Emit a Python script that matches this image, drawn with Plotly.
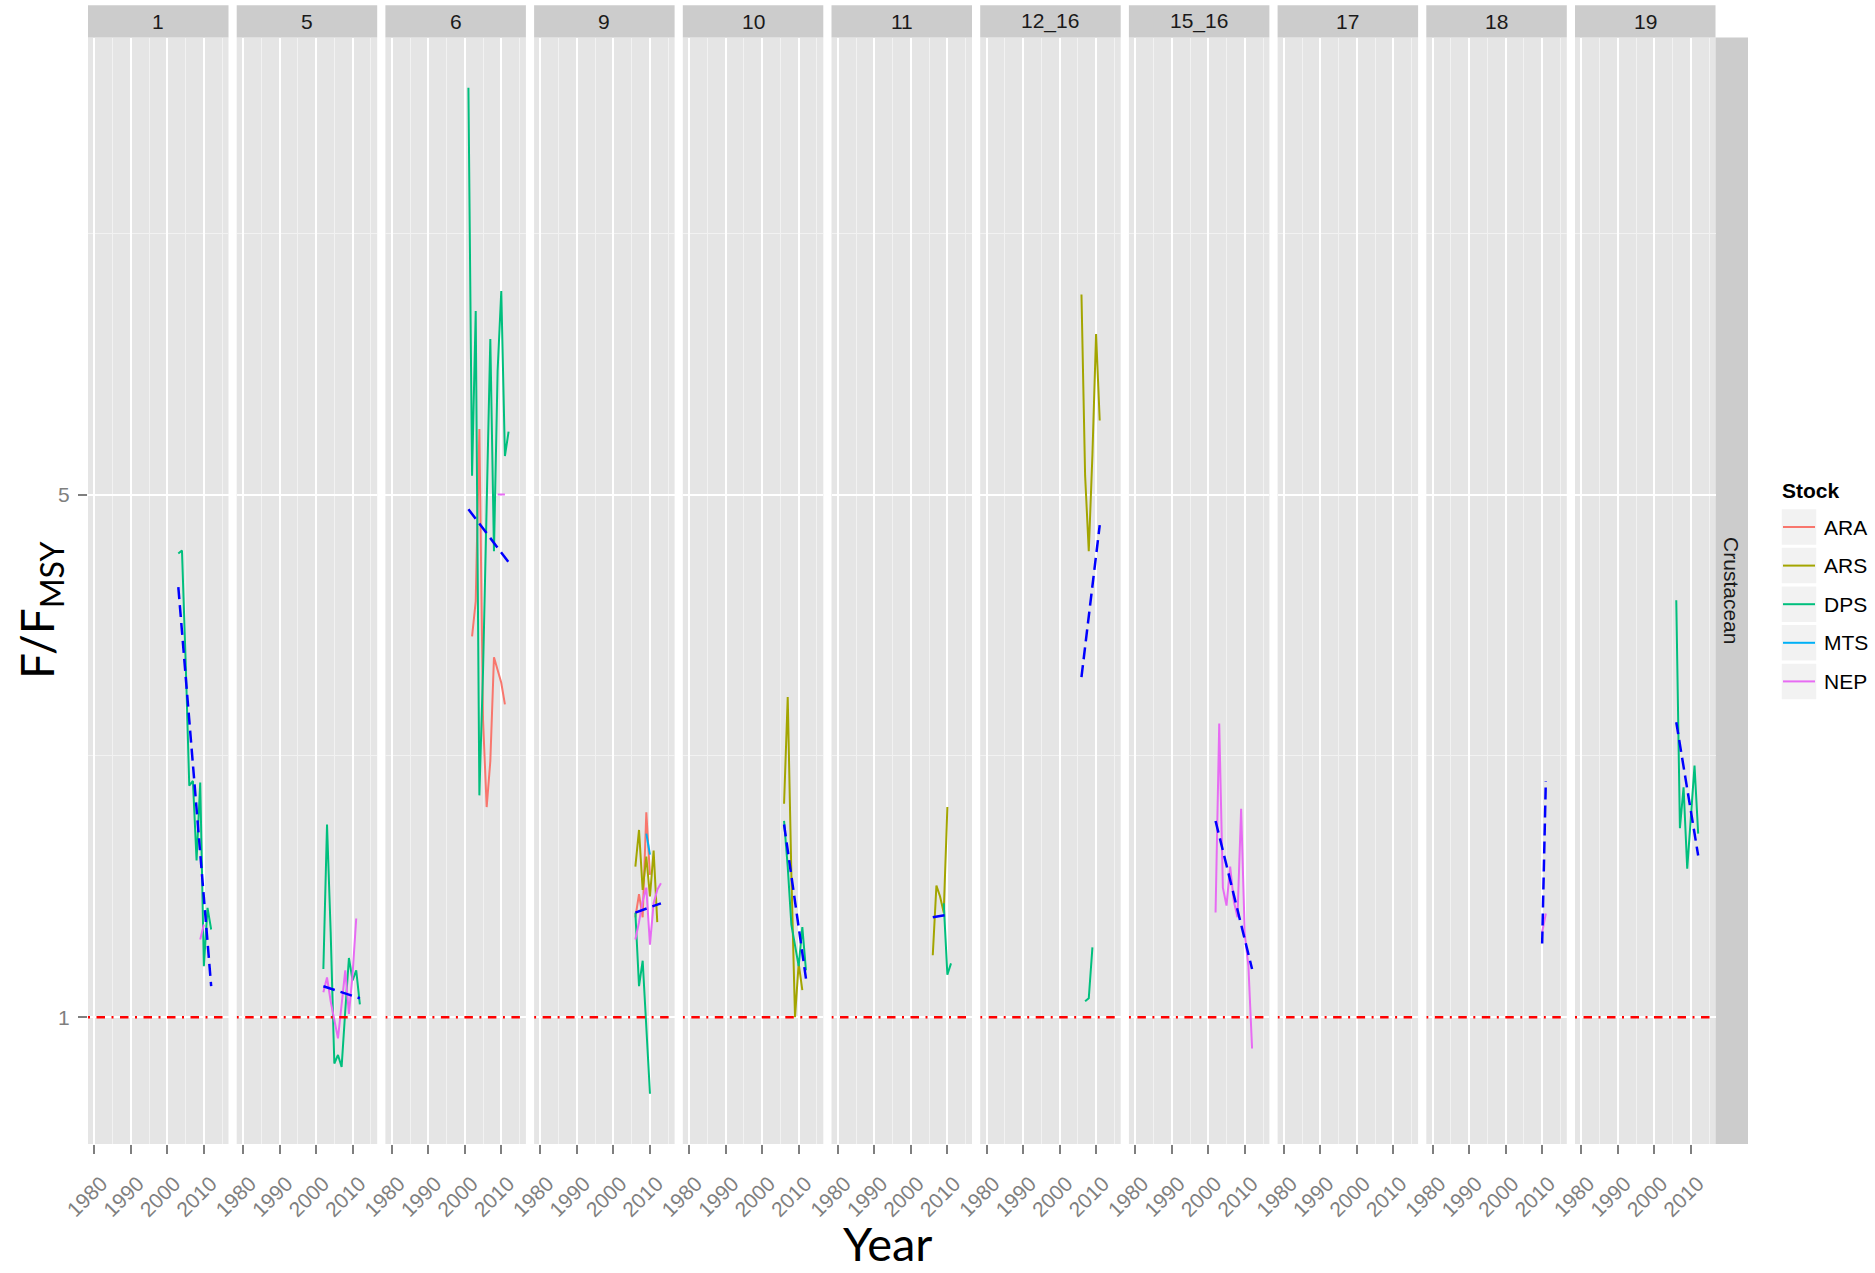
import math
import plotly.graph_objects as go

# ---------------- data ----------------
PANELS = ["1", "5", "6", "9", "10", "11", "12_16", "15_16", "17", "18", "19"]
STOCKS = ["ARA", "ARS", "DPS", "MTS", "NEP"]
STOCK_COLORS = ["#F8766D", "#A3A500", "#00BF7D", "#00B0F6", "#E76BF3"]
X_TICKS = [1980, 1990, 2000, 2010]
X_MINOR = [1985, 1995, 2005, 2015]
Y_TICKS = [1, 5]
X_LIMITS = [1980, 2015]          # year span of the full data set
REF_LEVEL = 1                     # F = FMSY
ROW_LABEL = "Crustacean"

# GSA 1
A1_DPS_YEAR = [2003, 2004, 2005, 2006, 2007, 2008, 2009, 2010, 2011, 2012]
A1_DPS_F = [4.17, 4.21, 3.0, 2.04, 2.07, 1.62, 2.06, 1.17, 1.40, 1.31]
A1_NEP_YEAR = [2009, 2010]
A1_NEP_F = [1.27, 1.33]
A1_TREND_YEAR = [2003, 2012]
A1_TREND_F = [3.76, 1.10]

# GSA 5
A5_DPS_YEAR = [2002, 2003, 2004, 2005, 2006, 2007, 2008, 2009, 2010, 2011, 2012]
A5_DPS_F = [1.16, 1.81, 1.30, 0.867, 0.89, 0.858, 1.02, 1.20, 1.12, 1.155, 1.04]
A5_NEP_YEAR = [2002, 2003, 2004, 2005, 2006, 2007, 2008, 2009, 2010, 2011]
A5_NEP_F = [1.08, 1.13, 1.05, 0.99, 0.937, 1.04, 1.155, 1.01, 1.14, 1.355]
A5_TREND_YEAR = [2002, 2012]
A5_TREND_F = [1.10, 1.06]

# GSA 6
A6_ARA_YEAR = [2002, 2003, 2004, 2005, 2006, 2007, 2008, 2009, 2010, 2011]
A6_ARA_F = [3.23, 3.6, 6.12, 2.5, 1.91, 2.2, 3.03, 2.92, 2.8, 2.62]
A6_DPS_YEAR = [2001, 2002, 2003, 2004, 2005, 2006, 2007, 2008, 2009, 2010, 2011, 2012]
A6_DPS_F = [17.5, 5.3, 8.8, 1.98, 2.9, 4.9, 8.07, 4.2, 7.32, 9.36, 5.63, 6.07]
A6_NEP_YEAR = [2009, 2010, 2011]
A6_NEP_F = [5.0, 5.0, 5.0]
A6_TREND_YEAR = [2001, 2012]
A6_TREND_F = [4.78, 4.06]

# GSA 9
A9_ARA_YEAR = [2006, 2007, 2008, 2009, 2010]
A9_ARA_F = [1.36, 1.46, 1.36, 1.88, 1.55]
A9_ARS_YEAR = [2006, 2007, 2008, 2009, 2010, 2011, 2012]
A9_ARS_F = [1.59, 1.78, 1.48, 1.64, 1.45, 1.67, 1.34]
A9_DPS_YEAR = [2006, 2007, 2008, 2009, 2010]
A9_DPS_F = [1.38, 1.10, 1.19, 0.97, 0.79]
A9_MTS_YEAR = [2009, 2010]
A9_MTS_F = [1.76, 1.65]
A9_NEP_YEAR = [2006, 2007, 2008, 2009, 2010, 2011, 2012, 2013]
A9_NEP_F = [1.27, 1.34, 1.43, 1.49, 1.25, 1.42, 1.48, 1.51]
A9_TREND_YEAR = [2006, 2013]
A9_TREND_F = [1.38, 1.42]

# GSA 10
A10_ARS_YEAR = [2006, 2007, 2008, 2009, 2010, 2011]
A10_ARS_F = [1.93, 2.68, 1.55, 1.0, 1.18, 1.087]
A10_DPS_YEAR = [2006, 2007, 2008, 2009, 2010, 2011, 2012]
A10_DPS_F = [1.83, 1.59, 1.33, 1.24, 1.17, 1.32, 1.155]
A10_TREND_YEAR = [2006, 2012]
A10_TREND_F = [1.81, 1.126]

# GSA 11
A11_ARS_YEAR = [2006, 2007, 2008, 2009, 2010]
A11_ARS_F = [1.21, 1.50, 1.45, 1.38, 1.91]
A11_DPS_YEAR = [2009, 2010, 2011]
A11_DPS_F = [1.42, 1.14, 1.18]
A11_TREND_YEAR = [2006, 2009.6]
A11_TREND_F = [1.36, 1.37]

# GSA 12_16
A12_ARS_YEAR = [2006, 2007, 2008, 2009, 2010, 2011]
A12_ARS_F = [9.26, 5.3, 4.20, 5.65, 8.2, 6.28]
A12_DPS_YEAR = [2007, 2008, 2009]
A12_DPS_F = [1.05, 1.06, 1.24]
A12_TREND_YEAR = [2006, 2011]
A12_TREND_F = [2.85, 4.55]

# GSA 15_16
A15_NEP_YEAR = [2002, 2003, 2004, 2005, 2006, 2007, 2008, 2009, 2010, 2011, 2012]
A15_NEP_F = [1.38, 2.47, 1.49, 1.41, 1.59, 1.43, 1.36, 1.90, 1.29, 1.17, 0.908]
A15_TREND_YEAR = [2002, 2012]
A15_TREND_F = [1.83, 1.16]

# GSA 18
A18_NEP_YEAR = [2010, 2011]
A18_NEP_F = [1.30, 1.376]
A18_TREND_YEAR = [2010, 2011]
A18_TREND_F = [1.255, 2.07]

# GSA 19
A19_DPS_YEAR = [2006, 2007, 2008, 2009, 2010, 2011, 2012]
A19_DPS_F = [3.61, 1.79, 2.03, 1.58, 1.85, 2.17, 1.76]
A19_TREND_YEAR = [2006, 2012]
A19_TREND_F = [2.48, 1.645]

SERIES = [
    ("1", "DPS", A1_DPS_YEAR, A1_DPS_F), ("1", "NEP", A1_NEP_YEAR, A1_NEP_F),
    ("5", "DPS", A5_DPS_YEAR, A5_DPS_F), ("5", "NEP", A5_NEP_YEAR, A5_NEP_F),
    ("6", "ARA", A6_ARA_YEAR, A6_ARA_F), ("6", "DPS", A6_DPS_YEAR, A6_DPS_F),
    ("6", "NEP", A6_NEP_YEAR, A6_NEP_F),
    ("9", "ARA", A9_ARA_YEAR, A9_ARA_F), ("9", "ARS", A9_ARS_YEAR, A9_ARS_F),
    ("9", "DPS", A9_DPS_YEAR, A9_DPS_F), ("9", "MTS", A9_MTS_YEAR, A9_MTS_F),
    ("9", "NEP", A9_NEP_YEAR, A9_NEP_F),
    ("10", "ARS", A10_ARS_YEAR, A10_ARS_F), ("10", "DPS", A10_DPS_YEAR, A10_DPS_F),
    ("11", "ARS", A11_ARS_YEAR, A11_ARS_F), ("11", "DPS", A11_DPS_YEAR, A11_DPS_F),
    ("12_16", "ARS", A12_ARS_YEAR, A12_ARS_F), ("12_16", "DPS", A12_DPS_YEAR, A12_DPS_F),
    ("15_16", "NEP", A15_NEP_YEAR, A15_NEP_F),
    ("18", "NEP", A18_NEP_YEAR, A18_NEP_F),
    ("19", "DPS", A19_DPS_YEAR, A19_DPS_F),
]
TRENDS = [
    ("1", A1_TREND_YEAR, A1_TREND_F), ("5", A5_TREND_YEAR, A5_TREND_F),
    ("6", A6_TREND_YEAR, A6_TREND_F), ("9", A9_TREND_YEAR, A9_TREND_F),
    ("10", A10_TREND_YEAR, A10_TREND_F), ("11", A11_TREND_YEAR, A11_TREND_F),
    ("12_16", A12_TREND_YEAR, A12_TREND_F), ("15_16", A15_TREND_YEAR, A15_TREND_F),
    ("18", A18_TREND_YEAR, A18_TREND_F), ("19", A19_TREND_YEAR, A19_TREND_F),
]

# ---------------- layout geometry (page pixels) ----------------
W, H = 1875, 1273


def px(x):
    return x / W


def py(y):
    return 1 - y / H


PX_LEFT, PANEL_W, PANEL_STEP = 88.0, 140.5, 148.7
PY_TOP, PY_BOT = 37.5, 1144.0
STRIP_TOP = 5.3
FONT = "Liberation Sans, Arial, sans-serif"
TITLE_FONT = "Lato, Carlito, Calibri, sans-serif"
GREY50 = "#7F7F7F"

color_of = dict(zip(STOCKS, STOCK_COLORS))

# scales: 5 % expansion like ggplot
xspan = X_LIMITS[1] - X_LIMITS[0]
XR = [X_LIMITS[0] - 0.05 * xspan, X_LIMITS[1] + 0.05 * xspan]
all_f = [v for s in SERIES for v in s[3]] + [v for t in TRENDS for v in t[2]]
lo, hi = math.log10(min(all_f)), math.log10(max(all_f))
YR = [lo - 0.05 * (hi - lo), hi + 0.05 * (hi - lo)]
Y_MINOR = [math.sqrt(Y_TICKS[0] * Y_TICKS[1]), Y_TICKS[1] * math.sqrt(Y_TICKS[1] / Y_TICKS[0])]

fig = go.Figure()
layout = dict(
    width=W, height=H, margin=dict(l=0, r=0, t=0, b=0, pad=0, autoexpand=False),
    paper_bgcolor="white", plot_bgcolor="#E5E5E5", showlegend=False,
    font=dict(family=FONT, size=21, color=GREY50),
)
ydom = [py(PY_BOT), py(PY_TOP)]
shapes, annotations = [], []

for i, p in enumerate(PANELS):
    sfx = "" if i == 0 else str(i + 1)
    x0 = PX_LEFT + i * PANEL_STEP
    layout["xaxis" + sfx] = dict(
        domain=[px(x0), px(x0 + PANEL_W)], anchor="y" + sfx, range=XR, automargin=False,
        tickmode="array", tickvals=X_TICKS, ticktext=[str(t) for t in X_TICKS],
        ticks="outside", ticklen=9, tickwidth=2, tickcolor=GREY50, tickangle=-45,
        ticklabelstandoff=9, ticklabelshift=7,
        tickfont=dict(family=FONT, size=21, color=GREY50),
        showgrid=True, gridcolor="white", gridwidth=2, zeroline=False, showline=False,
        minor=dict(tickvals=X_MINOR, showgrid=True, gridcolor="#F2F2F2", gridwidth=1, ticks=""),
        fixedrange=True,
    )
    yax = dict(
        domain=ydom, anchor="x" + sfx, type="log", range=YR, automargin=False,
        tickmode="array", tickvals=Y_TICKS, ticktext=[str(t) for t in Y_TICKS],
        showgrid=True, gridcolor="white", gridwidth=2, zeroline=False, showline=False,
        minor=dict(tickvals=Y_MINOR, showgrid=True, gridcolor="#F2F2F2", gridwidth=1, ticks=""),
        fixedrange=True,
    )
    if i == 0:
        yax.update(ticks="outside", ticklen=9, tickwidth=2, tickcolor=GREY50,
                   tickfont=dict(family=FONT, size=21, color=GREY50), showticklabels=True,
                   ticklabelstandoff=4)
    else:
        yax.update(ticks="", showticklabels=False, matches="y")
    layout["yaxis" + sfx] = yax

    # strip
    shapes.append(dict(type="rect", xref="paper", yref="paper", layer="below",
                       x0=px(x0), x1=px(x0 + PANEL_W), y0=py(PY_TOP), y1=py(STRIP_TOP),
                       fillcolor="#CCCCCC", line=dict(width=0)))
    annotations.append(dict(text=p, xref="paper", yref="paper", showarrow=False,
                            x=px(x0 + PANEL_W / 2), y=py((STRIP_TOP + PY_TOP) / 2),
                            xanchor="center", yanchor="middle",
                            font=dict(family=FONT, size=21, color="#1A1A1A")))

axis_of = {p: ("" if i == 0 else str(i + 1)) for i, p in enumerate(PANELS)}

# data lines
for p, stock, yrs, vals in SERIES:
    s = axis_of[p]
    fig.add_trace(go.Scatter(x=yrs, y=vals, mode="lines", name=stock,
                             line=dict(color=color_of[stock], width=2),
                             xaxis="x" + s, yaxis="y" + s))
# trend lines
for p, yrs, vals in TRENDS:
    s = axis_of[p]
    fig.add_trace(go.Scatter(x=yrs, y=vals, mode="lines", name="trend",
                             line=dict(color="#0000FF", width=2.5, dash="12px,6px"),
                             xaxis="x" + s, yaxis="y" + s))
# reference line F/FMSY = 1
for p in PANELS:
    s = axis_of[p]
    fig.add_trace(go.Scatter(x=XR, y=[REF_LEVEL, REF_LEVEL], mode="lines", name="FMSY",
                             line=dict(color="#FF0000", width=2.5, dash="2px,6.5px,8.5px,6.5px"),
                             xaxis="x" + s, yaxis="y" + s))

# right strip
rx0 = PX_LEFT + (len(PANELS) - 1) * PANEL_STEP + PANEL_W
shapes.append(dict(type="rect", xref="paper", yref="paper", layer="below",
                   x0=px(rx0), x1=px(rx0 + 32.5), y0=ydom[0], y1=ydom[1],
                   fillcolor="#CCCCCC", line=dict(width=0)))
annotations.append(dict(text=ROW_LABEL, xref="paper", yref="paper", showarrow=False,
                        x=px(rx0 + 16.2), y=(ydom[0] + ydom[1]) / 2, textangle=90,
                        xanchor="center", yanchor="middle",
                        font=dict(family=FONT, size=21, color="#1A1A1A")))

# legend (ggplot style)
LEG_X, LEG_TITLE_Y, LEG_Y0, LEG_STEP = 1780.0, 490.0, 527.0, 38.6
annotations.append(dict(text="<b>Stock</b>", xref="paper", yref="paper", showarrow=False,
                        x=px(LEG_X), y=py(LEG_TITLE_Y), xanchor="left", yanchor="middle",
                        font=dict(family=FONT, size=21, color="black")))
for j, stock in enumerate(STOCKS):
    cy = LEG_Y0 + j * LEG_STEP
    shapes.append(dict(type="rect", xref="paper", yref="paper",
                       x0=px(LEG_X + 1), x1=px(LEG_X + 37),
                       y0=py(cy + 18.5), y1=py(cy - 18.5),
                       fillcolor="#F2F2F2", line=dict(color="white", width=1.5)))
    shapes.append(dict(type="line", xref="paper", yref="paper",
                       x0=px(LEG_X + 3), x1=px(LEG_X + 35), y0=py(cy), y1=py(cy),
                       line=dict(color=color_of[stock], width=2)))
    annotations.append(dict(text=stock, xref="paper", yref="paper", showarrow=False,
                            x=px(LEG_X + 42), y=py(cy), xanchor="left", yanchor="middle",
                            font=dict(family=FONT, size=21, color="black")))

# axis titles
annotations.append(dict(text="Year", xref="paper", yref="paper", showarrow=False,
                        x=px(887), y=py(1243), xanchor="center", yanchor="middle",
                        font=dict(family=TITLE_FONT, size=47, color="black")))
annotations.append(dict(text="F/F<sub>MSY</sub>", xref="paper", yref="paper", showarrow=False,
                        x=px(40), y=py(610), xanchor="center", yanchor="middle", textangle=-90,
                        font=dict(family=TITLE_FONT, size=46, color="black")))

layout["shapes"] = shapes
layout["annotations"] = annotations
fig.update_layout(**layout)
fig.write_html("out.html",
               config={"displayModeBar": False, "staticPlot": False},
               post_script="document.body.style.margin='0';document.body.style.overflow='hidden';")
